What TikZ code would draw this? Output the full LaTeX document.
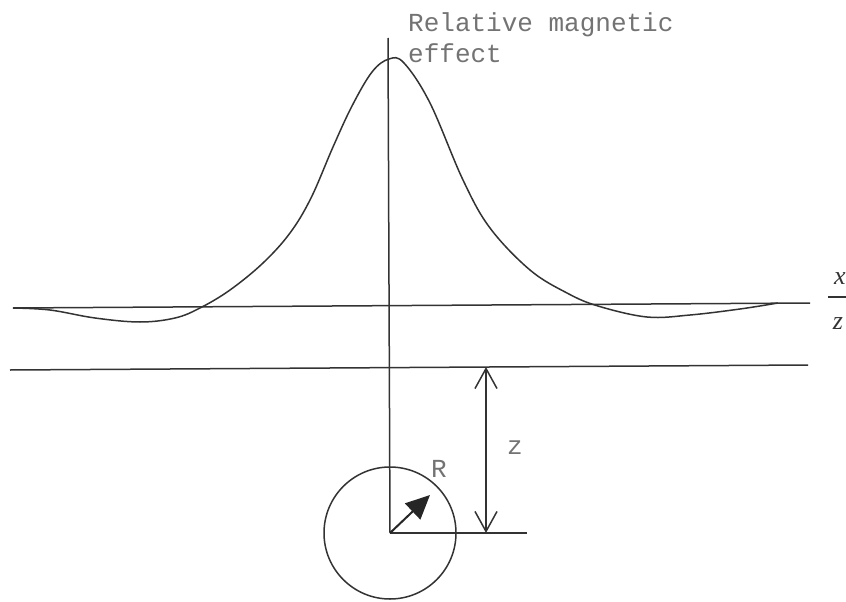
\documentclass[tikz,border=0pt]{standalone}
\usepackage{fontspec}
\setmonofont{Liberation Mono}
\newfontfamily\serifit{Liberation Serif Italic}
\usetikzlibrary{arrows.meta}
\begin{document}
\begin{tikzpicture}[x=1pt,y=-1pt,
  ln/.style={line width=1.5pt, draw=black!80},
  lbl/.style={text=black!55, font=\fontsize{26}{31}\selectfont\ttfamily, inner sep=0pt},
  frac/.style={text=black!80, font=\fontsize{26}{31}\selectfont\serifit, inner sep=0pt},
]
\useasboundingbox (0,0) rectangle (846,602);
% coordinates
\coordinate (axtop) at (388,38);
\coordinate (ctr) at (390,533);
\coordinate (l1a) at (13,308);
\coordinate (l1b) at (810,303);
\coordinate (l2a) at (10,370);
\coordinate (l2b) at (808,365);
\coordinate (rend) at (527,533);
\coordinate (dtop) at (486,367);
\coordinate (dbot) at (486,533);
\coordinate (rtip) at (430,495);
\coordinate (fba) at (828,297);
\coordinate (fbb) at (850,297);
% lines
\draw[ln] (l1a) -- (l1b);
\draw[ln] (l2a) -- (l2b);
\node[ln, draw, circle, minimum size=132pt, inner sep=0pt] (ball) at (ctr) {};
\draw[ln] (axtop) -- (ball.center);
\draw[ln] (ball.center) -- (rend);
\draw[ln, {Straight Barb[length=20pt,width=22pt]}-{Straight Barb[length=20pt,width=22pt]}] (dtop) -- (dbot);
\draw[line width=2pt, draw=black!85, -{Triangle[length=24pt,width=22pt]}] (ball.center) -- (rtip);
% curve
\draw[ln] plot[smooth, tension=0.6] coordinates {
 (13,308) (50,310) (95,318) (140,322) (175,318) (200,308) (230,290)
 (263,263) (290,233) (311,198) (333,147) (352,106) (372,72)
 (389,59) (404,63) (430,103) (463,180) (490,228)
 (530,270) (567,293) (598,306) (647,317) (690,315)
 (740,309) (778,303)};
% labels
\node[lbl, anchor=base west] (t1) at (408,32) {Relative magnetic};
\node[lbl, anchor=base west] (t2) at (408,63) {effect};
\node[lbl] (zl) at (515,448) {z};
\node[lbl] (rl) at (439,469) {R};
\node[frac] (fx) at (840,279) {x};
\node[frac] (fz) at (838,324) {z};
\draw[line width=1.2pt, draw=black!80] (fba) -- (fbb);
\end{tikzpicture}
\end{document}
